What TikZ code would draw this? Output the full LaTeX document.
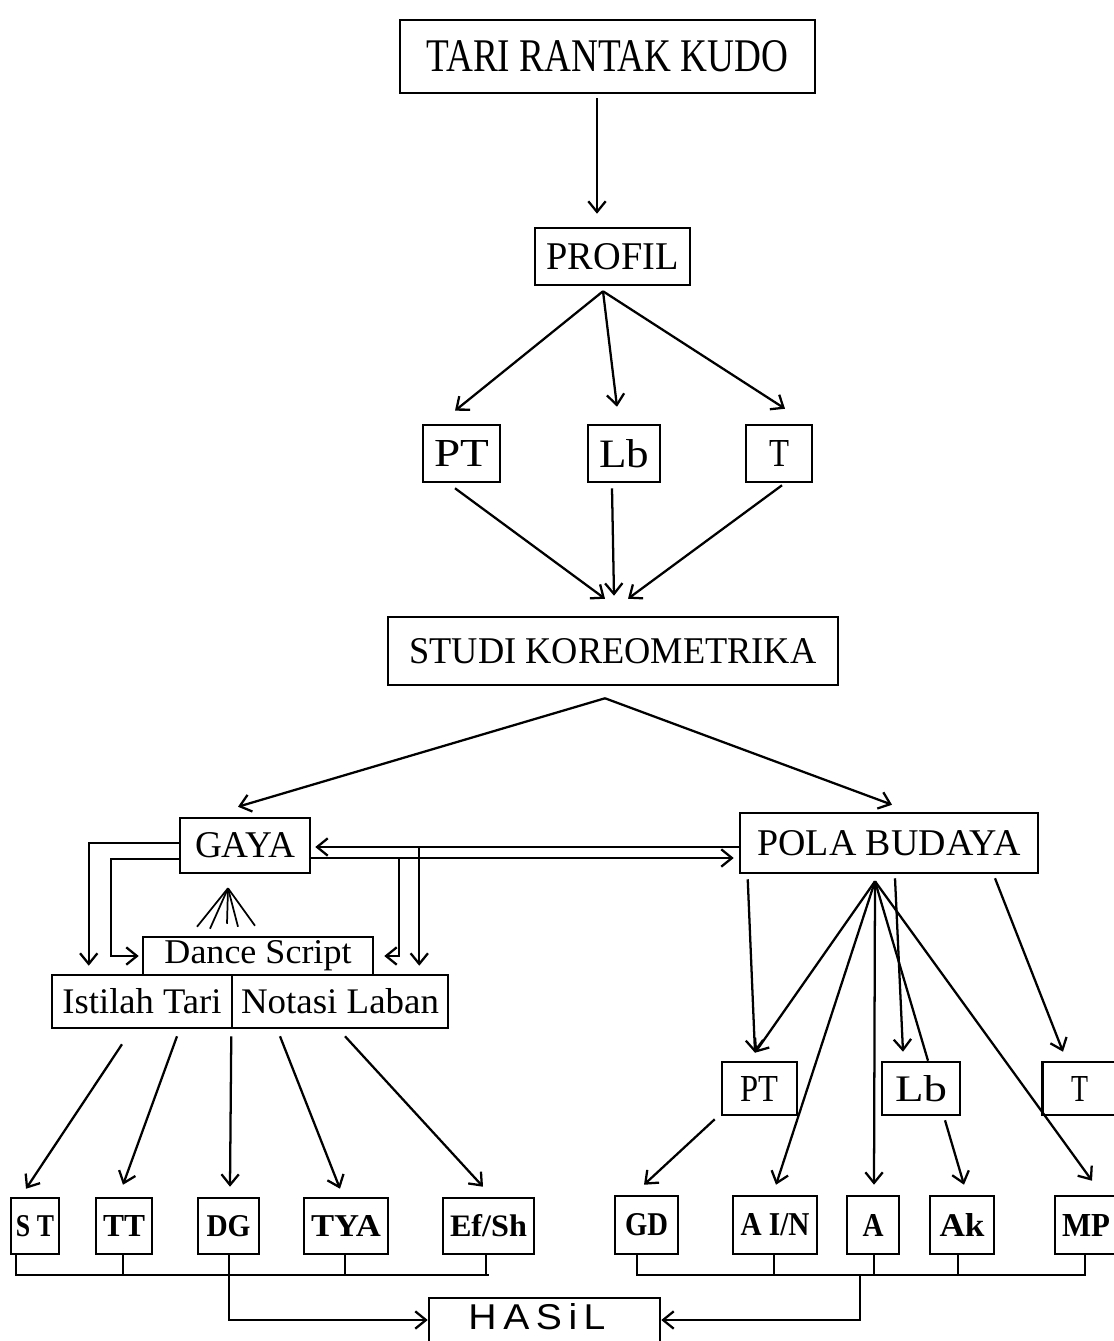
\documentclass[tikz,border=0pt]{standalone}
\usepackage{fontspec}
\setmainfont{Liberation Serif}
\setsansfont{Liberation Sans}
\usetikzlibrary{arrows.meta,calc}
\newlength\pxu \setlength\pxu{0.75pt}
\newcommand\fitt[3]{\resizebox{#1\pxu}{#2\pxu}{#3}}
\begin{document}
\begin{tikzpicture}[x=0.75pt,y=-0.75pt,line width=1.7pt,
  bx/.style 2 args={draw,line width=1.9pt,inner sep=0pt,minimum width=#1\pxu,minimum height=#2\pxu},
  arr/.style={-{Straight Barb[length=8pt,width=13pt]}},
  fan/.style={line width=1.3pt}]
\useasboundingbox (0,0) rectangle (1113,1341);
% nodes
\node[bx={415}{73}] (tari) at (607.5,56.5) {\fitt{362}{31}{TARI RANTAK KUDO}};
\node[bx={155}{57}] (profil) at (612.5,256.5) {\fitt{132}{26}{PROFIL}};
\node[bx={77}{57}] (pta) at (461.5,453.5) {\fitt{55}{26}{PT}};
\node[bx={72}{57}] (lba) at (624,453.5) {\fitt{50}{28}{Lb}};
\node[bx={66}{57}] (ta) at (779,453.5) {\fitt{20}{26}{T}};
\node[bx={450}{68}] (studi) at (613,651) {\fitt{407}{25}{STUDI KOREOMETRIKA}};
\node[bx={130}{55}] (gaya) at (245,845.5) {\fitt{100}{25}{GAYA}};
\node[bx={298}{60}] (pola) at (889,843) {\fitt{263}{25}{POLA BUDAYA}};
\node[bx={230}{38}] (dance) at (258,956) {\fitt{187}{23}{Dance Script}};
\node[bx={180}{53}] (istilah) at (142,1001.5) {\fitt{159}{25}{Istilah Tari}};
\node[bx={216}{53}] (notasi) at (340,1001.5) {\fitt{198}{25}{Notasi Laban}};
\node[bx={48}{56}] (st) at (35,1226) {\fitt{38}{21}{\bfseries S T}};
\node[bx={56}{56}] (tt) at (124,1226) {\fitt{42}{21}{\bfseries TT}};
\node[bx={61}{56}] (dg) at (228.5,1226) {\fitt{44}{21}{\bfseries DG}};
\node[bx={84}{56}] (tya) at (346,1226) {\fitt{70}{21}{\bfseries TYA}};
\node[bx={91}{56}] (efsh) at (488.5,1226) {\fitt{77}{22}{\bfseries Ef/Sh}};
\node[bx={75}{53}] (ptb) at (759.5,1088.5) {\fitt{38}{25}{PT}};
\node[bx={78}{53}] (lbb) at (921,1088.5) {\fitt{52}{26}{Lb}};
\node[bx={75}{53}] (tb) at (1080,1088.5) {\fitt{17}{25}{T}};
\node[bx={63}{58}] (gd) at (646.5,1225) {\fitt{43}{22}{\bfseries GD}};
\node[bx={84}{58}] (ain) at (775,1225) {\fitt{69}{22}{\bfseries A I/N}};
\node[bx={52}{58}] (aa) at (873,1225) {\fitt{21}{22}{\bfseries A}};
\node[bx={64}{58}] (ak) at (962,1225) {\fitt{45}{23}{\bfseries Ak}};
\node[bx={62}{58}] (mp) at (1086,1225) {\fitt{48}{22}{\bfseries MP}};
\node[bx={231}{60}] (hasil) at (544.5,1328) {};
\node[inner sep=0pt] (hasiltxt) at (537,1317) {\fitt{137}{26}{\sffamily H\,A\,S\,i\,L}};
% top part
\draw[arr] ($(tari.south)+(-10.5,4)$) -- ($(profil.north)+(-15.5,-13)$);
\coordinate (pa) at ($(profil.south)+(-9.5,5)$);
\draw[arr] (pa) -- ($(pta.north)+(-6.5,-13)$);
\draw[arr] (pa) -- ($(lba.north)+(-7,-17)$);
\draw[arr] (pa) -- ($(ta.north)+(6,-15)$);
\draw[arr] ($(pta.south)+(-6.5,5)$) -- ($(studi.north)+(-8,-17)$);
\draw[arr] ($(lba.south)+(-12,5)$) -- ($(studi.north)+(1,-20)$);
\draw[arr] ($(ta.south)+(3,2)$) -- ($(studi.north)+(15,-17)$);
\coordinate (sa) at ($(studi.south)+(-8,12)$);
\draw[arr] (sa) -- ($(gaya.north)+(-7,-10)$);
\draw[arr] (sa) -- ($(pola.north)+(3,-7)$);
% gaya <-> pola
\draw[arr] ($(pola.west)+(0,4)$) -- ($(gaya.east)+(4,1.5)$);
\draw[arr] ($(gaya.east)+(0,12.5)$) -- ($(pola.west)+(-5,15)$);
% loops to dance script / istilah
\draw[arr] ($(gaya.west)+(0,-2.5)$) -| ($(istilah.north west)+(38,-8)$);
\draw[arr] ($(gaya.west)+(0,13.5)$) -- ++(-68,0) |- ($(dance.west)+(-3,0)$);
\draw[arr] ($(gaya.east)+(88,12.5)$) |- ($(dance.east)+(10,0)$);
\draw[arr] ($(gaya.east)+(108,1.5)$) -- ($(notasi.north east)+(-30,-8)$);
% fan
\coordinate (fa) at ($(gaya.south)+(-17,14)$);
\foreach \dx/\dy in {-61/-9,-48/-7,-31/-12,-20/-9,-3/-10}
  \draw[fan] (fa) -- ($(dance.north)+(\dx,\dy)$);
% left bottom arrows
\draw[arr] ($(istilah.south)+(-20,15)$) -- ($(st.north)+(-9,-8)$);
\draw[arr] ($(istilah.south)+(35,7)$) -- ($(tt.north)+(-1,-12)$);
\draw[arr] ($(istilah.south east)+(-2,7)$) -- ($(dg.north)+(1.5,-10)$);
\draw[arr] ($(notasi.south)+(-60,7)$) -- ($(tya.north)+(-6,-8)$);
\draw[arr] ($(notasi.south)+(5,7)$) -- ($(efsh.north)+(-5.5,-10)$);
% right side
\coordinate (pb) at ($(pola.south)+(-14,7)$);
\draw[arr] ($(pola.south west)+(9,5)$) -- ($(ptb.north)+(-4.5,-8)$);
\draw[arr] (pb) -- ($(ptb.north)+(-4.5,-8)$);
\draw[arr] (pb) -- ($(ain.north)+(1,-10)$);
\draw[arr] (pb) -- ($(aa.north)+(1,-10)$);
\draw (pb) -- ($(lbb.north)+(7,0)$);
\draw[arr] (pb) -- ($(mp.north)+(6,-14)$);
\draw[arr] ($(pola.south)+(6,4)$) -- ($(lbb.north)+(-18,-9)$);
\draw[arr] ($(pola.south)+(106,4)$) -- ($(tb.north)+(-17,-9)$);
\draw[arr] ($(ptb.south west)+(-6,3)$) -- ($(gd.north)+(-2.5,-10)$);
\draw[arr] ($(lbb.south)+(24,4)$) -- ($(ak.north)+(2,-10)$);
% brackets
\coordinate (bla) at (16,1275);
\coordinate (blb) at (489,1275);
\draw (bla) -- (blb);
\foreach \n/\dx in {st/-19,tt/-1,dg/0.5,tya/-1,efsh/-2.5}
  \draw ($(\n.south)+(\dx,0)$) -- ++(0,21);
\draw[arr] ($(dg.south)+(0.5,21)$) |- ($(hasil.west)+(0,-8)$);
\coordinate (bra) at (637,1275);
\coordinate (brb) at (1085,1275);
\coordinate (brm) at (860,1275);
\draw (bra) -- (brb);
\foreach \n/\dx in {gd/-9.5,ain/-1,aa/1,ak/-4,mp/-1}
  \draw ($(\n.south)+(\dx,0)$) -- ++(0,21);
\draw[arr] (brm) |- ($(hasil.east)+(0,-8)$);
\end{tikzpicture}
\end{document}
